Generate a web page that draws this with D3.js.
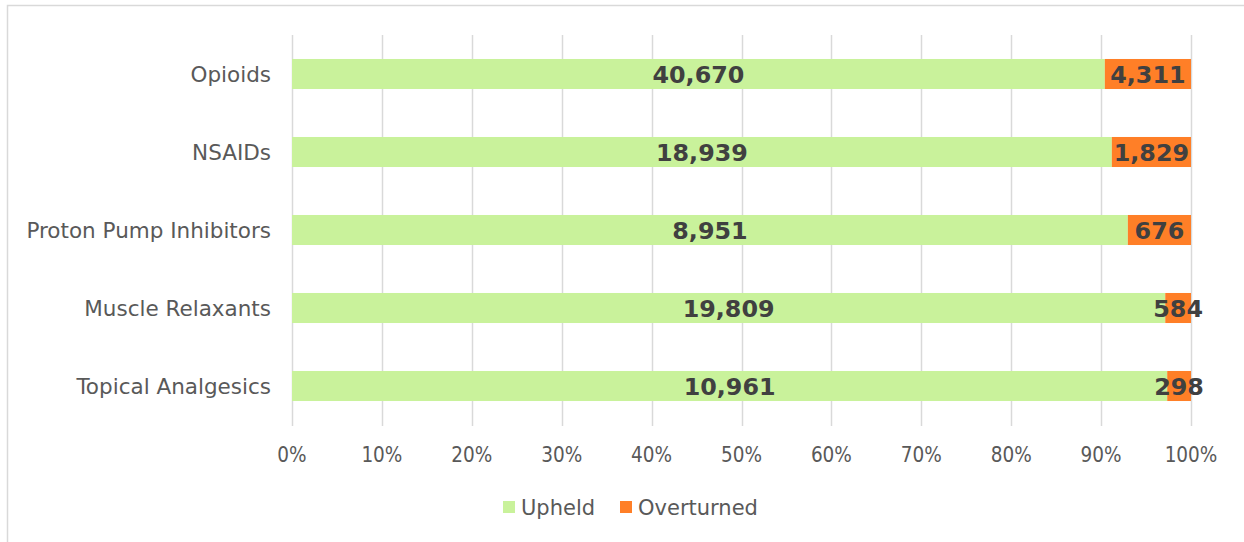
<!DOCTYPE html>
<html><head><meta charset="utf-8">
<script src="https://cdn.jsdelivr.net/npm/d3@7"></script>
<style>body{margin:0;background:#fff}svg{display:block}</style>
</head><body>
<svg id="c" width="1244" height="542"></svg>
<script>
const categories = ["Opioids","NSAIDs","Proton Pump Inhibitors","Muscle Relaxants","Topical Analgesics"];
const upheld = [40670, 18939, 8951, 19809, 10961];
const overturned = [4311, 1829, 676, 584, 298];
const seriesNames = ["Upheld","Overturned"];
const tickValues = [0,0.1,0.2,0.3,0.4,0.5,0.6,0.7,0.8,0.9,1.0];

const colors = ["#C9F29B","#FF7F27"];
const font = "'DejaVu Sans', Verdana, sans-serif";
const svg = d3.select("#c");
svg.append("rect").attr("x",7.5).attr("y",5.5).attr("width",1300).attr("height",600)
  .attr("fill","#fff").attr("stroke","#d9d9d9").attr("stroke-width",1.5);

const x = d3.scaleLinear().domain([0,1]).range([292,1191]);
const y = d3.scaleBand().domain(categories).range([35,425]).paddingInner(0.615).paddingOuter(0.3075);

// gridlines
svg.append("g").selectAll("line").data(tickValues).join("line")
  .attr("x1",d=>Math.round(x(d))+0.5).attr("x2",d=>Math.round(x(d))+0.5)
  .attr("y1",35).attr("y2",426).attr("stroke","#d9d9d9").attr("stroke-width",1.5);

const rows = categories.map((c,i)=>{
  const t = upheld[i]+overturned[i];
  return {c, vals:[upheld[i],overturned[i]], fr:[[0,upheld[i]/t],[upheld[i]/t,1]]};
});

rows.forEach(r=>{
  r.fr.forEach((f,j)=>{
    svg.append("rect").attr("x",x(f[0])).attr("width",x(f[1])-x(f[0]))
      .attr("y",y(r.c)).attr("height",y.bandwidth()).attr("fill",colors[j]);
  });
});
rows.forEach(r=>{
  r.fr.forEach((f,j)=>{
    svg.append("text").attr("x",(x(f[0])+x(f[1]))/2).attr("y",y(r.c)+y.bandwidth()/2)
      .attr("dy","0.36em").attr("text-anchor","middle")
      .attr("font-family",font).attr("font-weight","bold").attr("font-size",23.8)
      .attr("fill","#404040").text(d3.format(",")(r.vals[j]));
  });
});

// category labels
svg.append("g").selectAll("text").data(categories).join("text")
  .attr("x",271).attr("y",d=>y(d)+y.bandwidth()/2).attr("dy","0.36em")
  .attr("text-anchor","end").attr("font-family",font).attr("font-size",21.5)
  .attr("fill","#595959").text(d=>d);

// x tick labels
svg.append("g").selectAll("text").data(tickValues).join("text")
  .attr("x",d=>x(d)).attr("y",455).attr("dy","0.36em").attr("text-anchor","middle")
  .attr("font-family","'DejaVu Sans Condensed', 'DejaVu Sans', sans-serif").attr("font-size",20.5).attr("fill","#595959")
  .text(d=>d3.format(".0%")(d));

// legend
const leg = svg.append("g");
const legX = [503, 620];
seriesNames.forEach((s,i)=>{
  leg.append("rect").attr("x",legX[i]).attr("y",501).attr("width",12).attr("height",12).attr("fill",colors[i]);
  leg.append("text").attr("x",legX[i]+18).attr("y",507).attr("dy","0.36em")
    .attr("font-family",font).attr("font-size",21).attr("fill","#595959").text(s);
});
</script>
</body></html>
